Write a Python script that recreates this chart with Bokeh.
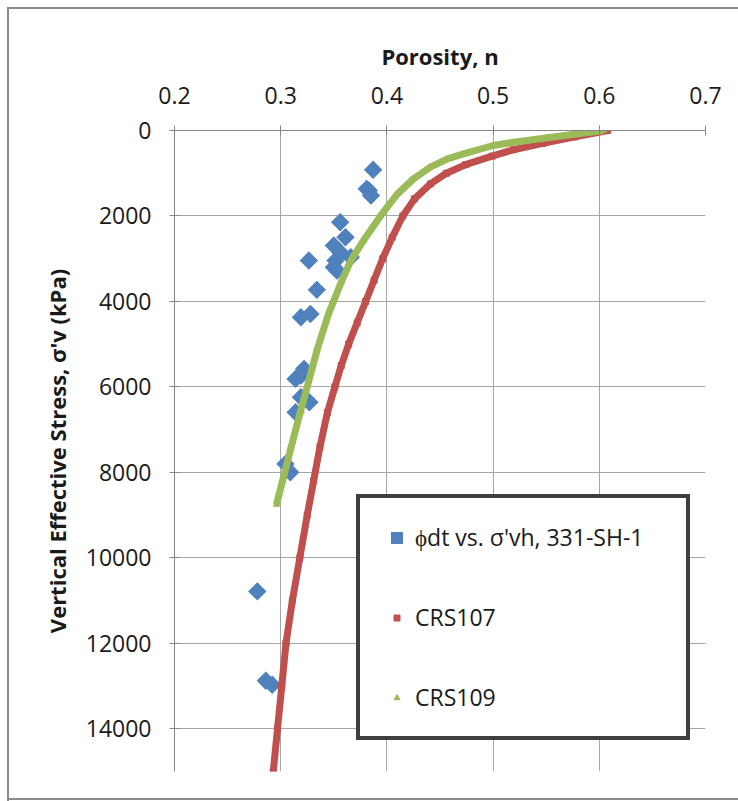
import math
from bokeh.plotting import figure
from bokeh.models import Legend, LegendItem
from bokeh.embed import file_html
from bokeh.resources import INLINE

# ---- data ----
x_ticks = [0.2, 0.3, 0.4, 0.5, 0.6, 0.7]
y_ticks = [0, 2000, 4000, 6000, 8000, 10000, 12000, 14000]

# phi_dt vs sigma'vh, 331-SH-1 (porosity, stress kPa)
sh_por = [0.387, 0.383, 0.381, 0.385, 0.356, 0.361, 0.350, 0.356, 0.366, 0.3265,
          0.3516, 0.350, 0.353, 0.334, 0.319, 0.328, 0.322, 0.319, 0.314, 0.327,
          0.319, 0.314, 0.3045, 0.309, 0.278, 0.286, 0.292]
sh_stress = [920, 1405, 1366, 1522, 2146, 2497, 2692, 2848, 2966, 3043,
             3043, 3200, 3277, 3729, 4371, 4293, 5579, 5735, 5813, 6360,
             6243, 6594, 7802, 7998, 10785, 12876, 12970]

# CRS107
crs107_por = [0.608, 0.577, 0.547, 0.519, 0.499, 0.474, 0.456, 0.441, 0.426, 0.415,
              0.405, 0.396, 0.388, 0.380, 0.372, 0.364, 0.357, 0.351, 0.344, 0.337,
              0.331, 0.325, 0.318, 0.311, 0.305, 0.301, 0.297, 0.293]
crs107_stress = [0, 150, 300, 450, 600, 800, 1000, 1250, 1600, 2000,
                 2500, 3000, 3500, 4000, 4500, 5000, 5500, 6000, 6600, 7400,
                 8200, 9000, 10000, 11000, 12000, 13000, 14000, 15000]

# CRS109
crs109_por = [0.604, 0.551, 0.520, 0.500, 0.472, 0.457, 0.441, 0.425, 0.410,
              0.400, 0.394, 0.378, 0.366, 0.357, 0.345, 0.335, 0.3265, 0.318, 0.3098,
              0.3018, 0.296]
crs109_stress = [0, 171, 273, 351, 546, 663, 858, 1131, 1482,
                 1800, 2000, 2575, 3043, 3550, 4293, 5072, 5852, 6633, 7412,
                 8193, 8755]

BLUE = "#4F81BD"
RED = "#C0504D"
GREEN = "#9BBB59"
FONT = "Open Sans"
FRAME_GREY = "#8c8c8c"

p = figure(width=738, height=801, output_backend="svg", toolbar_location=None,
           x_range=(0.2, 0.7), y_range=(15000, 0),
           x_axis_location="above", y_axis_location="left",
           min_border_left=174, min_border_right=33,
           min_border_top=130, min_border_bottom=30)
p.outline_line_color = None
p.border_fill_color = None
p.background_fill_color = "white"
g = f"linear-gradient({FRAME_GREY},{FRAME_GREY})"
p.styles = {
    "background": (f"{g} 7px 7px / 2px 794px no-repeat, "
                   f"{g} 7px 7px / 731px 2px no-repeat, "
                   f"{g} 7px 798px / 731px 2px no-repeat, #ffffff"),
}

p.xaxis.ticker = x_ticks
p.yaxis.ticker = y_ticks
p.xaxis.axis_label = "Porosity, n"
p.yaxis.axis_label = "Vertical Effective Stress, σ'v (kPa)"

for ax in (p.xaxis[0], p.yaxis[0]):
    ax.axis_line_color = "#868686"
    ax.major_tick_line_color = "#868686"
    ax.major_tick_in = 5
    ax.major_tick_out = 5
    ax.minor_tick_line_color = None
    ax.major_label_text_font = FONT
    ax.major_label_text_font_size = "23px"
    ax.major_label_text_color = "#1a1a1a"
    ax.axis_label_text_font = FONT
    ax.axis_label_text_font_size = "22px"
    ax.axis_label_text_font_style = "bold"
    ax.axis_label_text_color = "#1a1a1a"
p.xaxis.major_label_standoff = 22
p.yaxis.major_label_standoff = 18
p.xaxis.axis_label_standoff = 13
p.yaxis.axis_label_standoff = 11

for gr in (p.xgrid[0], p.ygrid[0]):
    gr.grid_line_color = "#a6a6a6"
    gr.grid_line_width = 1

r_sh = p.scatter(sh_por, sh_stress, marker="square", size=7, angle=math.pi / 4,
                 fill_color=BLUE, line_color=BLUE, line_width=6, line_join="miter")

p.line(crs107_por, crs107_stress, line_color=RED, line_width=7, line_join="round")
r_107 = p.scatter(crs107_por, crs107_stress, marker="square", size=6,
                  fill_color=RED, line_color=RED)

p.line(crs109_por, crs109_stress, line_color=GREEN, line_width=7, line_join="round")
r_109 = p.scatter(crs109_por, crs109_stress, marker="triangle", size=6,
                  fill_color=GREEN, line_color=GREEN)

legend = Legend(items=[
    LegendItem(label="ϕdt vs. σ'vh, 331-SH-1", renderers=[r_sh]),
    LegendItem(label="CRS107", renderers=[r_107]),
    LegendItem(label="CRS109", renderers=[r_109]),
], location=(182, 31), glyph_width=35, glyph_height=15, label_height=40,
   label_width=252, spacing=40, padding=19, label_standoff=1, margin=0,
   border_line_color="#3f3f3f", border_line_width=4, border_line_alpha=1.0,
   background_fill_color="white", background_fill_alpha=1.0,
   label_text_font=FONT, label_text_font_size="23px", label_text_color="#1a1a1a")
p.add_layout(legend, "center")

open("out.html", "w").write(file_html(p, INLINE))
